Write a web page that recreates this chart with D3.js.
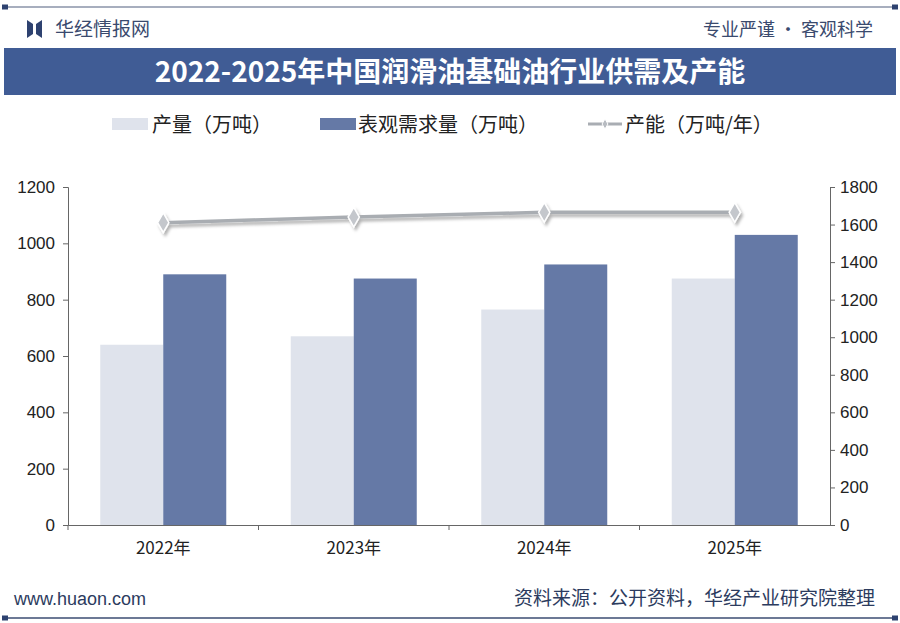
<!DOCTYPE html>
<html>
<head>
<meta charset="utf-8">
<script src="https://cdn.jsdelivr.net/npm/d3@7"></script>
<style>
  body { margin: 0; background: #fff; }
  svg text { font-family: "Noto Sans CJK SC", "Liberation Sans", sans-serif; }
</style>
</head>
<body>
<div id="chart"></div>
<script>
var years = ['2022年', '2023年', '2024年', '2025年']
var output = [640, 670, 765, 875]
var demand = [890, 875, 925, 1030]
var capacity = [1610, 1640, 1665, 1665]
var leftTicks = [0, 200, 400, 600, 800, 1000, 1200]
var rightTicks = [0, 200, 400, 600, 800, 1000, 1200, 1400, 1600, 1800]

var W = 900, H = 623
var navy = '#2e4270'
var svg = d3.select('#chart').append('svg')
    .attr('width', W)
    .attr('height', H)

// frame lines top and bottom
;[7, 618].forEach(function (yy) {
  svg.append('line').attr('x1', 4).attr('x2', 896).attr('y1', yy).attr('y2', yy)
    .attr('stroke', yy < 100 ? '#8a93a8' : '#3b4c72').attr('stroke-width', 1.5)
  svg.append('rect').attr('x', 2).attr('y', yy - 2.5).attr('width', 6).attr('height', 5).attr('fill', navy)
  svg.append('rect').attr('x', 892).attr('y', yy - 2.5).attr('width', 6).attr('height', 5).attr('fill', navy)
})

// logo
svg.append('path').attr('d', 'M27,20 L33,24 L33,34 L27,38 Z').attr('fill', navy)
svg.append('path').attr('d', 'M36,24 L42,20 L42,38 L36,34 Z').attr('fill', navy)
svg.append('text').attr('x', 55).attr('y', 36).attr('font-size', 19).attr('fill', '#3a4a6e')
  .text('华经情报网')
svg.append('text').attr('x', 873).attr('y', 36).attr('text-anchor', 'end').attr('font-size', 18).attr('fill', '#3a4a6e')
  .text('专业严谨 • 客观科学')

// title band
svg.append('rect').attr('x', 4).attr('y', 48).attr('width', 892).attr('height', 47).attr('fill', '#405c95')
svg.append('text').attr('x', 450).attr('y', 82).attr('text-anchor', 'middle')
  .attr('font-size', 28).attr('font-weight', 'bold').attr('fill', '#fff')
  .text('2022-2025年中国润滑油基础油行业供需及产能')

// legend
var lg = svg.append('g').attr('font-size', 20).attr('fill', '#222')
lg.append('rect').attr('x', 112).attr('y', 118).attr('width', 36).attr('height', 12).attr('fill', '#dfe3ec')
lg.append('text').attr('x', 152).attr('y', 132).text('产量（万吨）')
lg.append('rect').attr('x', 320).attr('y', 118).attr('width', 36).attr('height', 12).attr('fill', '#6579a6')
lg.append('text').attr('x', 358).attr('y', 132).text('表观需求量（万吨）')
lg.append('line').attr('x1', 588).attr('x2', 622).attr('y1', 124).attr('y2', 124)
  .attr('stroke', '#a9adb3').attr('stroke-width', 3)
lg.append('path').attr('d', d3.symbol(d3.symbolDiamond, 30)()).attr('transform', 'translate(605,124)')
  .attr('fill', '#b8bcc2').attr('stroke', '#fff')
lg.append('text').attr('x', 625).attr('y', 132).text('产能（万吨/年）')

// scales
var pLeft = 68, pRight = 830, pTop = 187, pBottom = 525
var x = d3.scaleBand().domain(years).range([pLeft, pRight]).paddingInner(0).paddingOuter(0)
var y = d3.scaleLinear().domain([0, 1200]).range([pBottom, pTop])
var y2 = d3.scaleLinear().domain([0, 1800]).range([pBottom, pTop])
var barW = 63

// bars
var g = svg.append('g')
g.selectAll('.out').data(output).enter().append('rect')
  .attr('x', function (d, i) { return x(years[i]) + x.bandwidth() / 2 - barW })
  .attr('y', function (d) { return y(d) })
  .attr('width', barW)
  .attr('height', function (d) { return pBottom - y(d) })
  .attr('fill', '#dfe3ec')
g.selectAll('.dem').data(demand).enter().append('rect')
  .attr('x', function (d, i) { return x(years[i]) + x.bandwidth() / 2 })
  .attr('y', function (d) { return y(d) })
  .attr('width', barW)
  .attr('height', function (d) { return pBottom - y(d) })
  .attr('fill', '#6579a6')

// axes
var axL = d3.axisLeft(y).tickValues(leftTicks).tickSize(5).tickPadding(8).tickFormat(d3.format('d'))
var axR = d3.axisRight(y2).tickValues(rightTicks).tickSize(5).tickPadding(5).tickFormat(d3.format('d'))
var axB = d3.axisBottom(x).tickSize(0).tickPadding(17)

function styleAxis(sel) {
  sel.selectAll('path, line').attr('stroke', '#666')
  sel.selectAll('text').attr('font-size', 17).attr('fill', '#222')
    .style('font-family', '"Liberation Sans", Arial, sans-serif')
}
svg.append('g').attr('transform', 'translate(' + pLeft + ',0)').call(axL).call(styleAxis)
svg.append('g').attr('transform', 'translate(' + pRight + ',0)').call(axR).call(styleAxis)
var bx = svg.append('g').attr('transform', 'translate(0,' + pBottom + ')').call(axB)
bx.selectAll('path').attr('stroke', '#666')
bx.selectAll('text').attr('font-size', 17).attr('fill', '#222')
bx.selectAll('.tick').append('line').attr('x1', -x.bandwidth() / 2).attr('x2', -x.bandwidth() / 2)
  .attr('y1', 0).attr('y2', 5).attr('stroke', '#666')

// capacity line
var defs = svg.append('defs')
var f = defs.append('filter').attr('id', 'sh').attr('x', '-10%').attr('y', '-50%').attr('width', '120%').attr('height', '200%')
f.append('feDropShadow').attr('dx', 2).attr('dy', 3).attr('stdDeviation', 1.5).attr('flood-color', '#000').attr('flood-opacity', 0.3)

var line = d3.line()
  .x(function (d, i) { return x(years[i]) + x.bandwidth() / 2 })
  .y(function (d) { return y2(d) })
var lg2 = svg.append('g').attr('filter', 'url(#sh)')
lg2.append('path').datum(capacity).attr('d', line)
  .attr('fill', 'none').attr('stroke', '#a9adb2').attr('stroke-width', 3.5)
lg2.selectAll('.pt').data(capacity).enter().append('path')
  .attr('d', d3.symbol(d3.symbolDiamond, 110)())
  .attr('transform', function (d, i) { return 'translate(' + (x(years[i]) + x.bandwidth() / 2) + ',' + y2(d) + ')' })
  .attr('fill', '#c4c7cc').attr('stroke', '#fff').attr('stroke-width', 1.5)

// footer
svg.append('text').attr('x', 14).attr('y', 605).attr('font-size', 18).attr('fill', '#2c3b5e')
  .style('font-family', '"Liberation Sans", Arial, sans-serif')
  .text('www.huaon.com')
svg.append('text').attr('x', 875).attr('y', 605).attr('text-anchor', 'end').attr('font-size', 19).attr('fill', '#2c3b5e')
  .text('资料来源：公开资料，华经产业研究院整理')
</script>
</body>
</html>
